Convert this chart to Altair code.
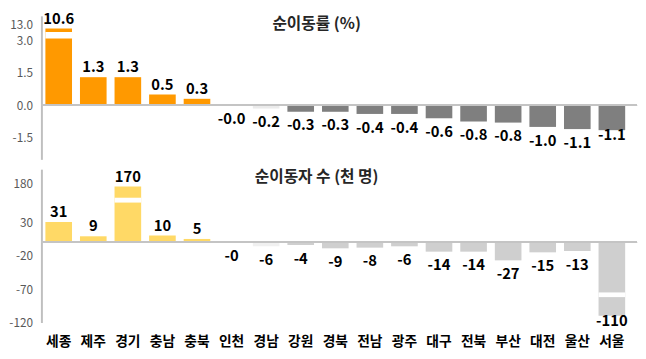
import altair as alt
import pandas as pd

FONT = "Noto Sans CJK KR"

regions = ["세종", "제주", "경기", "충남", "충북", "인천", "경남", "강원", "경북",
           "전남", "광주", "대구", "전북", "부산", "대전", "울산", "서울"]
rate = [10.6, 1.3, 1.3, 0.5, 0.3, -0.02, -0.15, -0.3, -0.3, -0.4, -0.4,
        -0.6, -0.75, -0.8, -1.0, -1.1, -1.15]
rate_labels = ["10.6", "1.3", "1.3", "0.5", "0.3", "-0.0", "-0.2", "-0.3", "-0.3",
               "-0.4", "-0.4", "-0.6", "-0.8", "-0.8", "-1.0", "-1.1", "-1.1"]
count = [31, 9, 170, 10, 5, -0.2, -6, -4, -9, -8, -6, -14, -14, -27, -15, -13, -110]
count_labels = ["31", "9", "170", "10", "5", "-0", "-6", "-4", "-9", "-8", "-6",
                "-14", "-14", "-27", "-15", "-13", "-110"]
faint = ["경남"]
tight_labels = ["서울"]
panel_titles = ["순이동률 (%)", "순이동자 수 (천 명)"]

rate_ticks = [-1.5, 0.0, 1.5, 3.0, 13.0]
count_ticks = [-120, -70, -20, 30, 180]

# axis-break gaps drawn across the clipped bars
rate_break_region = ["세종"]
rate_break_lo = [4.3]
rate_break_hi = [8.4]
count_break_region = ["경기", "서울"]
count_break_lo = [107, -82]
count_break_hi = [126, -75]


def frame(values, labels):
    rows = []
    for r, v, l in zip(regions, values, labels):
        if r in faint:
            grp = "faint"
        elif v >= 0:
            grp = "pos"
        else:
            grp = "neg"
        rows.append({"region": r, "v": v, "label": l, "grp": grp,
                     "tight": r in tight_labels})
    return pd.DataFrame(rows)


df_rate = frame(rate, rate_labels)
df_count = frame(count, count_labels)
brk_rate = pd.DataFrame({"region": rate_break_region, "lo": rate_break_lo, "hi": rate_break_hi})
brk_count = pd.DataFrame({"region": count_break_region, "lo": count_break_lo, "hi": count_break_hi})

W = 598
H_TOP = 146
H_BOT = 156

xscale = alt.Scale(domain=regions, paddingInner=0.23, paddingOuter=0.115)


def yaxis(ticks, fmt):
    return alt.Axis(values=ticks, tickCount=len(ticks) + 5, title=None, ticks=False,
                    grid=False, labelOverlap=False,
                    labelExpr="replace(format(datum.value, '%s'), '\u2212', '-')" % fmt,
                    domainColor="#BFBFBF", domainWidth=2,
                    labelFont=FONT, labelFontSize=12, labelColor="#595959",
                    labelPadding=9, minExtent=32, maxExtent=32)


def panel(df, brk, yscale, ticks, fmt, colors, show_x, title, height):
    x_axis = (alt.Axis(title=None, domain=False, ticks=False, labelAngle=0,
                       labelFont=FONT, labelFontSize=14, labelFontWeight="bold",
                       labelColor="#000000", labelPadding=12)
              if show_x else None)
    x = alt.X("region:N", sort=regions, scale=xscale, axis=x_axis)
    y = alt.Y("v:Q", scale=yscale, axis=yaxis(ticks, fmt))
    base = alt.Chart(df)
    bars = base.mark_bar().encode(
        x=x, y=y,
        color=alt.Color("grp:N", scale=alt.Scale(domain=["pos", "neg", "faint"], range=colors),
                        legend=None))
    gaps = alt.Chart(brk).mark_bar(color="white").encode(
        x=alt.X("region:N", sort=regions, scale=xscale, axis=x_axis),
        y=alt.Y("lo:Q", scale=yscale, axis=yaxis(ticks, fmt)), y2="hi:Q")
    zero = base.mark_rule(color="#C4C4C4", strokeWidth=1.5).encode(
        y=alt.datum(0), x=alt.value(0), x2=alt.value(W + 8))
    txt = dict(font=FONT, fontSize=15, fontWeight="bold", color="#000000")
    pos_t = base.transform_filter("datum.v >= 0").mark_text(
        baseline="alphabetic", dy=-5, **txt).encode(x=x, y=y, text="label:N")
    neg_t = base.transform_filter("datum.v < 0 && !datum.tight").mark_text(
        baseline="top", dy=7, **txt).encode(x=x, y=y, text="label:N")
    tight_t = base.transform_filter("datum.v < 0 && datum.tight").mark_text(
        baseline="top", dy=-2, **txt).encode(x=x, y=y, text="label:N")
    ttl = alt.Chart(pd.DataFrame({"t": [title]})).mark_text(
        font=FONT, fontSize=16, fontWeight="bold", color="#262626",
        align="center", baseline="middle").encode(
        text="t:N", x=alt.value(280), y=alt.value(8))
    return alt.layer(bars, gaps, zero, pos_t, neg_t, tight_t, ttl).properties(
        width=W, height=height)


top = panel(df_rate, brk_rate,
            alt.Scale(domain=[-2.5, 3.0, 18.8], range=[H_TOP, 25, 0], nice=False, zero=False),
            rate_ticks, ".1f", ["#FF9900", "#7F7F7F", "#EBEBEB"], False,
            panel_titles[0], H_TOP)
bottom = panel(df_count, brk_count,
               alt.Scale(domain=[-120, 30, 237.7], range=[H_BOT, 54, 0], nice=False, zero=False),
               count_ticks, "d", ["#FFD966", "#CFCFCF", "#F0F0F0"], True,
               panel_titles[1], H_BOT)

chart = alt.vconcat(top, bottom, spacing=10, bounds="flush").resolve_scale(
    color="independent"
).properties(padding=0).configure_view(stroke=None)

chart.save("out.html", embed_options={"renderer": "svg", "actions": False})
